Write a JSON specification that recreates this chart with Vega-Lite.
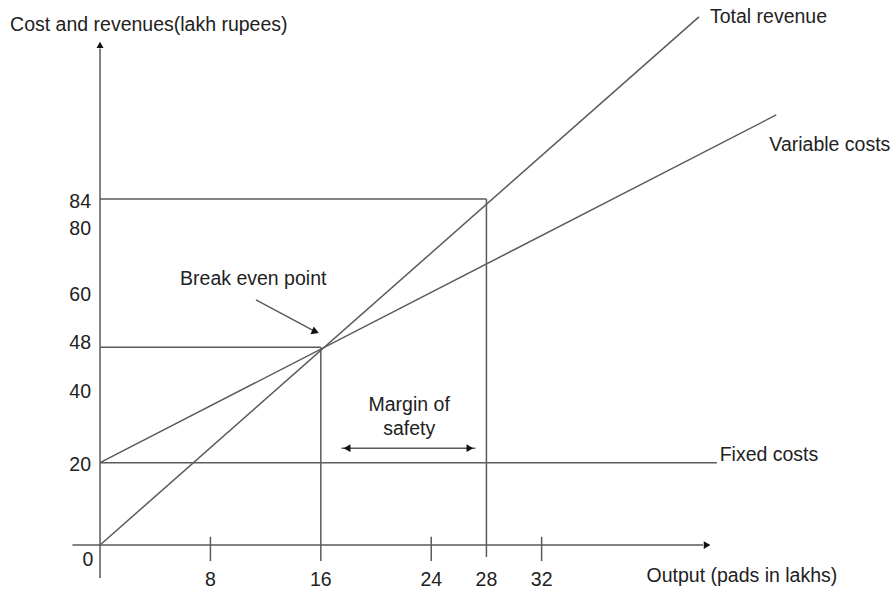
{
  "$schema": "https://vega.github.io/schema/vega-lite/v6.json",
  "width": 896,
  "height": 592,
  "padding": 0,
  "autosize": {"type": "fit", "contains": "padding"},
  "background": "white",
  "config": {"view": {"stroke": null}, "font": "Liberation Sans"},
  "datasets": {
    "segments": [
      {"name": "y axis", "x": 0, "y": -8, "x2": 0, "y2": 120.5},
      {"name": "x axis", "x": -2, "y": 0, "x2": 43.7, "y2": 0},
      {"name": "tick 8", "x": 8, "y": 2, "x2": 8, "y2": -3.9},
      {"name": "tick 24", "x": 24, "y": 2, "x2": 24, "y2": -3.9},
      {"name": "tick 32", "x": 32, "y": 2, "x2": 32, "y2": -3.9},
      {"name": "drop 16", "x": 16, "y": 48, "x2": 16, "y2": -3.9},
      {"name": "drop 28", "x": 28, "y": 84, "x2": 28, "y2": -2.9},
      {"name": "level 48", "x": 0, "y": 48, "x2": 16, "y2": 48},
      {"name": "level 84", "x": 0, "y": 84, "x2": 28, "y2": 84},
      {"name": "Fixed costs", "x": 0, "y": 20, "x2": 44.7, "y2": 20},
      {"name": "Total revenue", "x": 0, "y": 0, "x2": 43.4, "y2": 128.2},
      {"name": "Variable costs", "x": 0, "y": 20, "x2": 49.0, "y2": 104.4},
      {"name": "bep pointer", "x": 11.3, "y": 59.5, "x2": 15.5, "y2": 52.0},
      {"name": "margin of safety", "x": 17.5, "y": 23.5, "x2": 27.2, "y2": 23.5}
    ],
    "heads": [
      {"dir": "up", "x": 0, "y": 121.4},
      {"dir": "right", "x": 43.99, "y": 0},
      {"dir": "left", "x": 17.9, "y": 23.5},
      {"dir": "right", "x": 26.8, "y": 23.5},
      {"dir": "diag", "x": 15.53, "y": 51.9}
    ],
    "xticks": [
      {"label": "8", "x": 8, "y": -8.5},
      {"label": "16", "x": 16, "y": -8.5},
      {"label": "24", "x": 24, "y": -8.5},
      {"label": "28", "x": 28, "y": -8.5},
      {"label": "32", "x": 32, "y": -8.5}
    ],
    "yticks": [
      {"label": "84", "x": -0.65, "y": 83.3},
      {"label": "80", "x": -0.65, "y": 76.7},
      {"label": "60", "x": -0.65, "y": 60.7},
      {"label": "48", "x": -0.65, "y": 49.0},
      {"label": "40", "x": -0.65, "y": 37.2},
      {"label": "20", "x": -0.65, "y": 19.4},
      {"label": "0", "x": -0.49, "y": -3.6}
    ],
    "leftLabels": [
      {"label": "Cost and revenues(lakh rupees)", "x": -6.52, "y": 126.2},
      {"label": "Total revenue", "x": 44.2, "y": 128.1},
      {"label": "Variable costs", "x": 48.5, "y": 97.1},
      {"label": "Fixed costs", "x": 44.9, "y": 21.8},
      {"label": "Output (pads in lakhs)", "x": 39.6, "y": -7.5}
    ],
    "centerLabels": [
      {"label": "Break even point", "x": 11.1, "y": 64.6},
      {"label": "Margin of", "x": 22.4, "y": 34.0},
      {"label": "safety", "x": 22.4, "y": 28.2}
    ]
  },
  "encoding": {
    "x": {"field": "x", "type": "quantitative", "axis": null,
          "scale": {"domain": [-7.25, 57.68], "nice": false, "zero": false}},
    "y": {"field": "y", "type": "quantitative", "axis": null,
          "scale": {"domain": [-11.4, 132.3], "nice": false, "zero": false}}
  },
  "layer": [
    {
      "data": {"name": "segments"},
      "mark": {"type": "rule", "color": "#5a5a5a", "strokeWidth": 1.5},
      "encoding": {
        "x2": {"field": "x2"},
        "y2": {"field": "y2"}
      }
    },
    {
      "data": {"name": "heads"},
      "transform": [{"filter": "datum.dir === 'up'"}],
      "mark": {"type": "point", "shape": "triangle-up", "filled": true, "color": "#111", "size": 50, "opacity": 1}
    },
    {
      "data": {"name": "heads"},
      "transform": [{"filter": "datum.dir === 'right'"}],
      "mark": {"type": "point", "shape": "triangle-right", "filled": true, "color": "#111", "size": 60, "opacity": 1}
    },
    {
      "data": {"name": "heads"},
      "transform": [{"filter": "datum.dir === 'left'"}],
      "mark": {"type": "point", "shape": "triangle-left", "filled": true, "color": "#111", "size": 60, "opacity": 1}
    },
    {
      "data": {"name": "heads"},
      "transform": [{"filter": "datum.dir === 'diag'"}],
      "mark": {"type": "point", "shape": "triangle", "angle": 113, "filled": true, "color": "#111", "size": 70, "opacity": 1}
    },
    {
      "data": {"name": "xticks"},
      "mark": {"type": "text", "align": "center", "baseline": "middle", "fontSize": 19.5, "color": "#222"},
      "encoding": {"text": {"field": "label"}}
    },
    {
      "data": {"name": "yticks"},
      "mark": {"type": "text", "align": "right", "baseline": "middle", "fontSize": 19.5, "color": "#222"},
      "encoding": {"text": {"field": "label"}}
    },
    {
      "data": {"name": "leftLabels"},
      "mark": {"type": "text", "align": "left", "baseline": "middle", "fontSize": 19.5, "color": "#222"},
      "encoding": {"text": {"field": "label"}}
    },
    {
      "data": {"name": "centerLabels"},
      "mark": {"type": "text", "align": "center", "baseline": "middle", "fontSize": 19.5, "color": "#222"},
      "encoding": {"text": {"field": "label"}}
    }
  ]
}
